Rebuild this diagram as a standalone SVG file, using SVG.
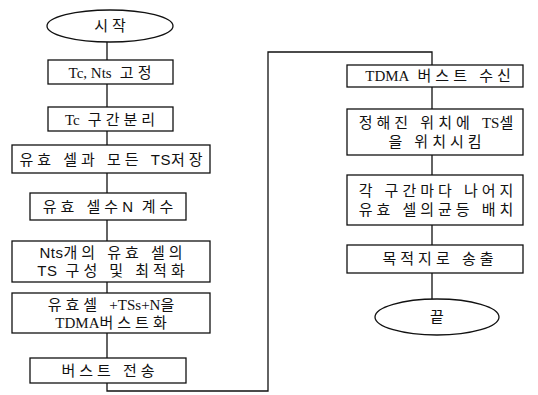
<svg xmlns="http://www.w3.org/2000/svg" width="538" height="395" viewBox="0 0 538 395">
<style>
.s{fill:#fff;stroke:#111;stroke-width:1.3}
.t{font-family:"Liberation Sans","Noto Sans CJK KR",sans-serif;font-size:15px;fill:#111;text-anchor:middle;letter-spacing:4px}
.r{font-family:"Liberation Serif","Noto Sans CJK KR",serif;letter-spacing:0}
.l{letter-spacing:0.5px}
.c{fill:none;stroke:#111;stroke-width:1.3}
</style>
<rect width="538" height="395" fill="#fff"/>
<g id="connectors">
<path class="c" d="M107 42V60M107 84V107M107 131V145M107 173V193M107 220V241M107 282V293M107 333V358M107 383V391H268V52H432V65"/>
<path class="c" d="M432 87V109M432 155V175M432 225V245M432 273V299"/>
</g>
<g id="start"><ellipse class="s" cx="110" cy="26" rx="63" ry="16"/><text class="t" x="112" y="31">시작</text></g>
<g id="n1"><rect class="s" x="48" y="60" width="125" height="24"/><text class="t" x="112" y="78"><tspan class="r">Tc, Nts</tspan> 고정</text></g>
<g id="n2"><rect class="s" x="48" y="107" width="125" height="24"/><text class="t" x="112" y="125"><tspan class="r">Tc</tspan> 구간분리</text></g>
<g id="n3"><rect class="s" x="12" y="145" width="198" height="28"/><text class="t" x="113" y="165">유효 셀과 모든 <tspan class="l">TS</tspan>저장</text></g>
<g id="n4"><rect class="s" x="30" y="193" width="156" height="27"/><text class="t" x="110" y="212">유효 셀수<tspan class="l">N</tspan> 계수</text></g>
<g id="n5"><rect class="s" x="12" y="241" width="198" height="41"/><text class="t" x="113" y="258"><tspan class="l">Nts</tspan>개의 유효 셀의</text><text class="t" x="113" y="276"><tspan class="l">TS</tspan> 구성 및 최적화</text></g>
<g id="n6"><rect class="s" x="12" y="293" width="198" height="40"/><text class="t" x="113" y="310">유효셀 <tspan class="r">+TSs+N</tspan>을</text><text class="t" x="113" y="328"><tspan class="r">TDMA</tspan>버스트화</text></g>
<g id="n7"><rect class="s" x="30" y="358" width="156" height="25"/><text class="t" x="110" y="376">버스트 전송</text></g>
<g id="m1"><rect class="s" x="347" y="65" width="176" height="22"/><text class="t" x="440" y="81"><tspan class="r">TDMA</tspan> 버스트 수신</text></g>
<g id="m2"><rect class="s" x="347" y="109" width="176" height="46"/><text class="t" x="438" y="128">정해진 위치에 <tspan class="r">TS</tspan>셀</text><text class="t" x="437" y="147">을 위치시킴</text></g>
<g id="m3"><rect class="s" x="347" y="175" width="176" height="50"/><text class="t" x="438" y="196">각 구간마다 나어지</text><text class="t" x="438" y="215">유효 셀의균등 배치</text></g>
<g id="m4"><rect class="s" x="347" y="245" width="176" height="28"/><text class="t" x="440" y="264">목적지로 송출</text></g>
<g id="end"><ellipse class="s" cx="437" cy="317" rx="62" ry="18"/><text class="t" x="439" y="322">끝</text></g>
</svg>
